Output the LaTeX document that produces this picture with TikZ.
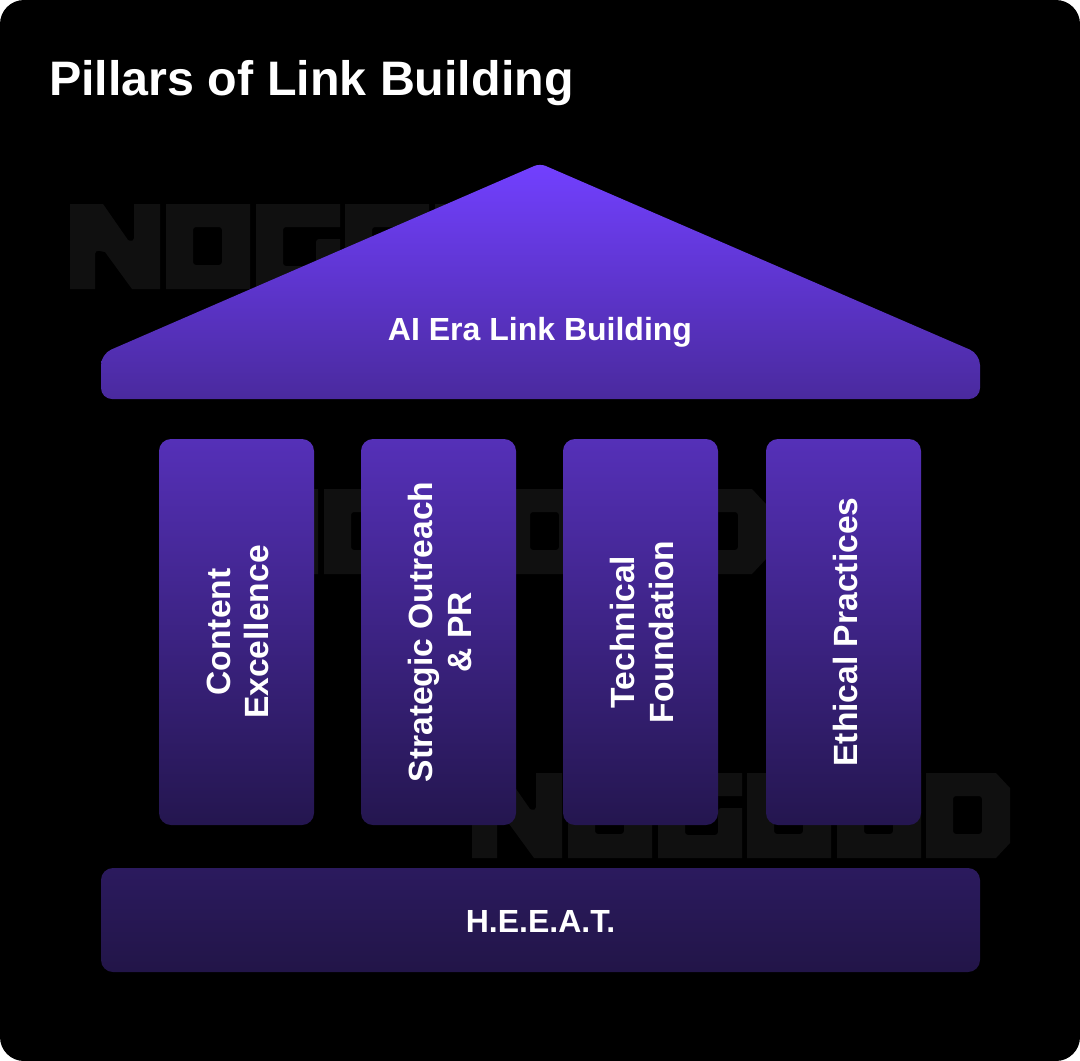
\documentclass[tikz,border=0pt]{standalone}
\usepackage{fontspec}
\setmainfont{Liberation Sans}
\definecolor{wm}{HTML}{101010}
\definecolor{roofT}{HTML}{7240FF}
\definecolor{roofB}{HTML}{4A2A9E}
\definecolor{pilT}{HTML}{5530B8}
\definecolor{pilB}{HTML}{24164F}
\definecolor{baseT}{HTML}{2B1A5E}
\definecolor{baseB}{HTML}{221548}
\tikzset{
  wmshape/.style={fill=wm,even odd rule,draw=none},
  lab/.style={text=white,font=\fontsize{32}{38}\selectfont\bfseries,align=center,inner sep=0pt},
  vlab/.style={text=white,font=\fontsize{33.6}{38.5}\selectfont\bfseries,align=center,inner sep=0pt,rotate=90,yshift=-1.5pt},
  pillar/.style={rectangle,rounded corners=12,draw=none,top color=pilT,bottom color=pilB,minimum width=155,minimum height=386,inner sep=0pt},
  basebox/.style={rectangle,rounded corners=12,draw=none,top color=baseT,bottom color=baseB,minimum width=879,minimum height=104,inner sep=0pt}
}
\newcommand{\wmN}[1]{\fill[wm,shift={(#1,0)}] (0,0)--(33,0)--(58,36) [rounded corners=4] --(64,38)--(64,20) [sharp corners] --(64,0)--(90,0)--(90,85)--(62,85)--(35,48) [rounded corners=4] --(25,46)--(25,65) [sharp corners] --(25,85)--(0,85)--cycle;}
\newcommand{\wmO}[1]{\fill[wmshape,shift={(#1,0)}] (0,0)--(84,0)--(84,85)--(0,85)--cycle [rounded corners=3] (27,23)--(27,61)--(56,61)--(56,23)--cycle;}
\newcommand{\wmG}[1]{\fill[wm,shift={(#1,0)}] (0,0)--(84,0)--(84,23) [rounded corners=3] --(27,23)--(27,62)--(60,62)--(60,35) [sharp corners] --(84,35)--(84,85)--(0,85)--cycle;}
\newcommand{\wmD}[1]{\fill[wmshape,shift={(#1,0)}] (0,0)--(70,0)--(84,15)--(84,70)--(70,85)--(0,85)--cycle [rounded corners=3] (27,23)--(27,61)--(56,61)--(56,23)--cycle;}
\newcommand{\wmword}[2]{\begin{scope}[shift={(#1,#2)}]\wmN{0}\wmO{96}\wmG{186}\wmO{275}\wmO{365}\wmD{454}\end{scope}}
\begin{document}
\begin{tikzpicture}[x=1pt,y=-1pt]
\useasboundingbox (0,0) rectangle (1080,1061);
\fill[white] (0,0) rectangle (1080,1061);
\fill[black,rounded corners=24] (0,0) rectangle (1080,1061);
\wmword{70}{204}
\wmword{228}{489}
\wmword{472}{773}
\node[anchor=west,text=white,inner sep=0pt,font=\fontsize{48.4}{56}\selectfont\bfseries] (title) at (49,83) {Pillars of Link Building};
\shade[top color=roofT,bottom color=roofB,rounded corners=6]
  (540,163.5) [rounded corners=11] -- (980,354) -- (980,399) -- (101,399) -- (101,354) [rounded corners=6] -- cycle;
\node[lab] (roof) at (540,332.5) {AI Era Link Building};
\node[pillar] (p1) at (236.5,632) {};
\node[pillar] (p2) at (438.5,632) {};
\node[pillar] (p3) at (640.5,632) {};
\node[pillar] (p4) at (843.5,632) {};
\node[basebox] (base) at (540.5,920) {};
\node[vlab] (t1) at (p1) {Content\\Excellence};
\node[vlab] (t2) at (p2) {Strategic Outreach\\\& PR};
\node[vlab] (t3) at (p3) {Technical\\Foundation};
\node[vlab] (t4) at (p4) {Ethical Practices};
\node[lab,yshift=-1.5pt] (t5) at (base) {H.E.E.A.T.};
\end{tikzpicture}
\end{document}
